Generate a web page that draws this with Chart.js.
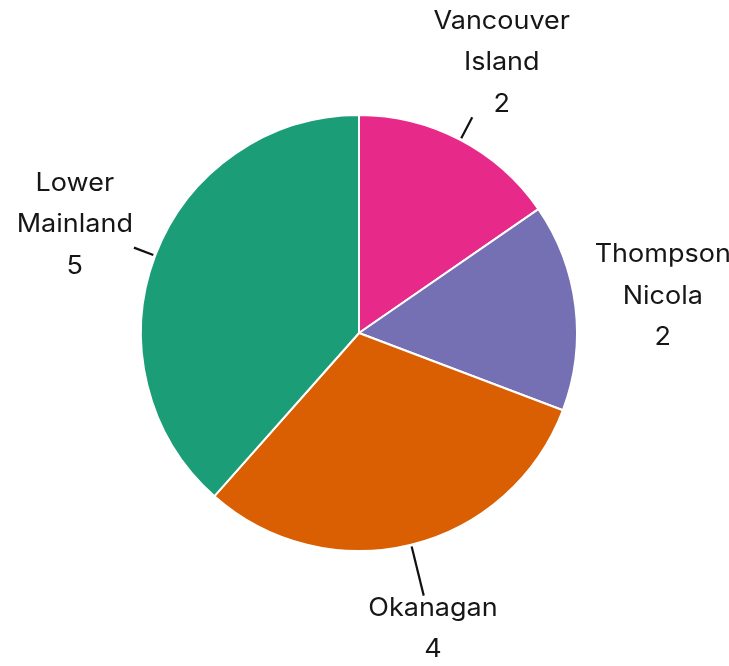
<!DOCTYPE html>
<html>
<head>
<meta charset="utf-8">
<script src="https://cdn.jsdelivr.net/npm/chart.js@4"></script>
<style>
  html, body { margin: 0; padding: 0; background: #fff; }
  #wrap { width: 729px; height: 666px; }
</style>
</head>
<body>
<div id="wrap"><canvas id="regionPie"></canvas></div>
<script>
// data
const regions = [["Vancouver", "Island"], ["Thompson", "Nicola"], "Okanagan", ["Lower", "Mainland"]];
const counts = [2, 2, 4, 5];
const sliceColors = ["#e7298a", "#7570b3", "#d95f02", "#1b9e77"];

const labelFont = "25px Inter";
const stretch = 1.08;    // the original face is a bit wider than Inter
const lineGap = 41.5;
const labelDist = 305;   // label block centre, px from pie centre

// draws the outside labels + leader lines
const outsideLabels = {
  id: "outsideLabels",
  afterDatasetsDraw(chart) {
    const ctx = chart.ctx;
    const meta = chart.getDatasetMeta(0);
    ctx.save();
    ctx.font = labelFont;
    ctx.textAlign = "center";
    ctx.textBaseline = "middle";
    meta.data.forEach((arc, i) => {
      const p = arc.getProps(["x", "y", "startAngle", "endAngle", "outerRadius"], true);
      const mid = (p.startAngle + p.endAngle) / 2;
      const ux = Math.cos(mid), uy = Math.sin(mid);
      let lines = Array.isArray(regions[i]) ? regions[i].slice() : [regions[i]];
      lines.push(String(counts[i]));
      const cx = p.x + ux * labelDist;
      const cy = p.y + uy * labelDist;
      const w = Math.max(...lines.map(s => ctx.measureText(s).width)) * stretch;
      const h = lines.length * lineGap;
      // where the ray meets the label box
      const hw = w / 2 + 2, hh = h / 2 - 8;
      const tx = Math.abs(ux) > 1e-6 ? hw / Math.abs(ux) : Infinity;
      const ty = Math.abs(uy) > 1e-6 ? hh / Math.abs(uy) : Infinity;
      const lineEnd = labelDist - Math.min(tx, ty);
      if (lineEnd > p.outerRadius + 20) {
        ctx.beginPath();
        ctx.moveTo(p.x + ux * (p.outerRadius + 2), p.y + uy * (p.outerRadius + 2));
        ctx.lineTo(p.x + ux * lineEnd, p.y + uy * lineEnd);
        ctx.strokeStyle = "#111";
        ctx.lineWidth = 2.2;
        ctx.stroke();
      }
      ctx.fillStyle = "#161616";
      lines.forEach((s, k) => {
        ctx.save();
        ctx.translate(cx + 1, cy + (k - (lines.length - 1) / 2) * lineGap);
        ctx.scale(stretch, 1);
        ctx.fillText(s, 0, 0);
        ctx.restore();
      });
    });
    ctx.restore();
  }
};

new Chart(document.getElementById("regionPie"), {
  type: "pie",
  data: {
    labels: regions,
    datasets: [{
      data: counts,
      backgroundColor: sliceColors,
      borderColor: "#ffffff",
      borderWidth: 2
    }]
  },
  options: {
    responsive: true,
    maintainAspectRatio: false,
    animation: false,
    layout: { padding: { left: 140, right: 151, top: 114, bottom: 114 } },
    plugins: {
      legend: { display: false },
      tooltip: { enabled: false }
    }
  },
  plugins: [outsideLabels]
});
</script>
</body>
</html>
